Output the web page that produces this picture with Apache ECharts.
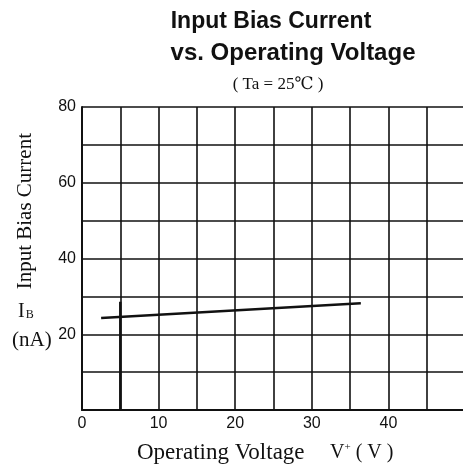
<!DOCTYPE html>
<html>
<head>
<meta charset="utf-8">
<script src="https://cdn.jsdelivr.net/npm/echarts@6/dist/echarts.min.js"></script>
<style>
  html, body { margin: 0; padding: 0; background: #fff; }
  #main { width: 463px; height: 468px; }
</style>
</head>
<body>
<div id="main"></div>
<script>
// values
var voltage = [2.5, 36.4];      // V+ (V)
var biasCurrent = [24.3, 28.2]; // IB (nA)
var minVoltage = [5, 5];        // thick mark at 5 V
var minMark = [0, 28.6];
var xTickLabels = [0, 10, 20, 30, 40];
var yTickLabels = [20, 40, 60, 80];

var chart = echarts.init(document.getElementById('main'));
var serif = '"Liberation Serif", "DejaVu Serif", serif';
var sans = '"Liberation Sans", Arial, sans-serif';

chart.setOption({
    backgroundColor: '#fff',
    animation: false,
    title: [{
        text: 'Input Bias Current',
        left: 266, top: 5, textAlign: 'center',
        textStyle: { fontFamily: sans, fontWeight: 'bold', fontSize: 23, color: '#111' }
    }, {
        text: 'vs. Operating Voltage',
        left: 288, top: 36, textAlign: 'center',
        textStyle: { fontFamily: sans, fontWeight: 'bold', fontSize: 24, color: '#111' }
    }, {
        text: '( Ta = 25℃ )',
        left: 273, top: 71, textAlign: 'center',
        textStyle: { fontFamily: serif, fontWeight: 'normal', fontSize: 17, color: '#111' }
    }],
    grid: { left: 82, top: 107, width: 383, bottom: 58, outerBoundsMode: 'none' },
    xAxis: {
        type: 'value', min: 0, max: 50, interval: 5,
        axisLine: { show: true, lineStyle: { color: '#111', width: 2 } },
        axisTick: { show: false },
        splitLine: { show: true, lineStyle: { color: '#111', width: 1.6 } },
        axisLabel: {
            margin: 6, fontFamily: sans, fontSize: 16, color: '#111',
            formatter: function(v) { return xTickLabels.indexOf(v) >= 0 ? String(v) : ''; }
        }
    },
    yAxis: {
        type: 'value', min: 0, max: 80, interval: 10,
        axisLine: { show: true, lineStyle: { color: '#111', width: 2 } },
        axisTick: { show: false },
        splitLine: { show: true, lineStyle: { color: '#111', width: 1.6 } },
        axisLabel: {
            margin: 6, fontFamily: sans, fontSize: 16, color: '#111',
            formatter: function(v) { return yTickLabels.indexOf(v) >= 0 ? String(v) : ''; }
        }
    },
    graphic: [{
        type: 'text', left: 15, top: 133, rotation: Math.PI / 2,
        style: { text: 'Input Bias Current', font: '21px ' + serif, fill: '#111' }
    }, {
        type: 'text', left: 18, top: 302,
        style: {
            text: '{a|I}{b|B}', fill: '#111',
            rich: {
                a: { fontFamily: serif, fontSize: 20 },
                b: { fontFamily: serif, fontSize: 12, padding: [5, 0, 0, 1] }
            }
        }
    }, {
        type: 'text', left: 12, top: 330,
        style: { text: '(nA)', font: '21px ' + serif, fill: '#111' }
    }, {
        type: 'text', left: 137, top: 441,
        style: { text: 'Operating Voltage', font: '23px ' + serif, fill: '#111' }
    }, {
        type: 'text', left: 330, top: 442,
        style: {
            text: '{a|V}{b|+}{a| ( V )}', fill: '#111',
            rich: {
                a: { fontFamily: serif, fontSize: 20 },
                b: { fontFamily: serif, fontSize: 11, padding: [0, 0, 10, 0] }
            }
        }
    }],
    series: [{
        type: 'line',
        data: voltage.map(function(v, i) { return [v, biasCurrent[i]]; }),
        showSymbol: false,
        lineStyle: { color: '#111', width: 2.5 }
    }, {
        type: 'line',
        data: minVoltage.map(function(v, i) { return [v, minMark[i]]; }),
        showSymbol: false,
        lineStyle: { color: '#111', width: 2.5 }
    }]
});
</script>
</body>
</html>
